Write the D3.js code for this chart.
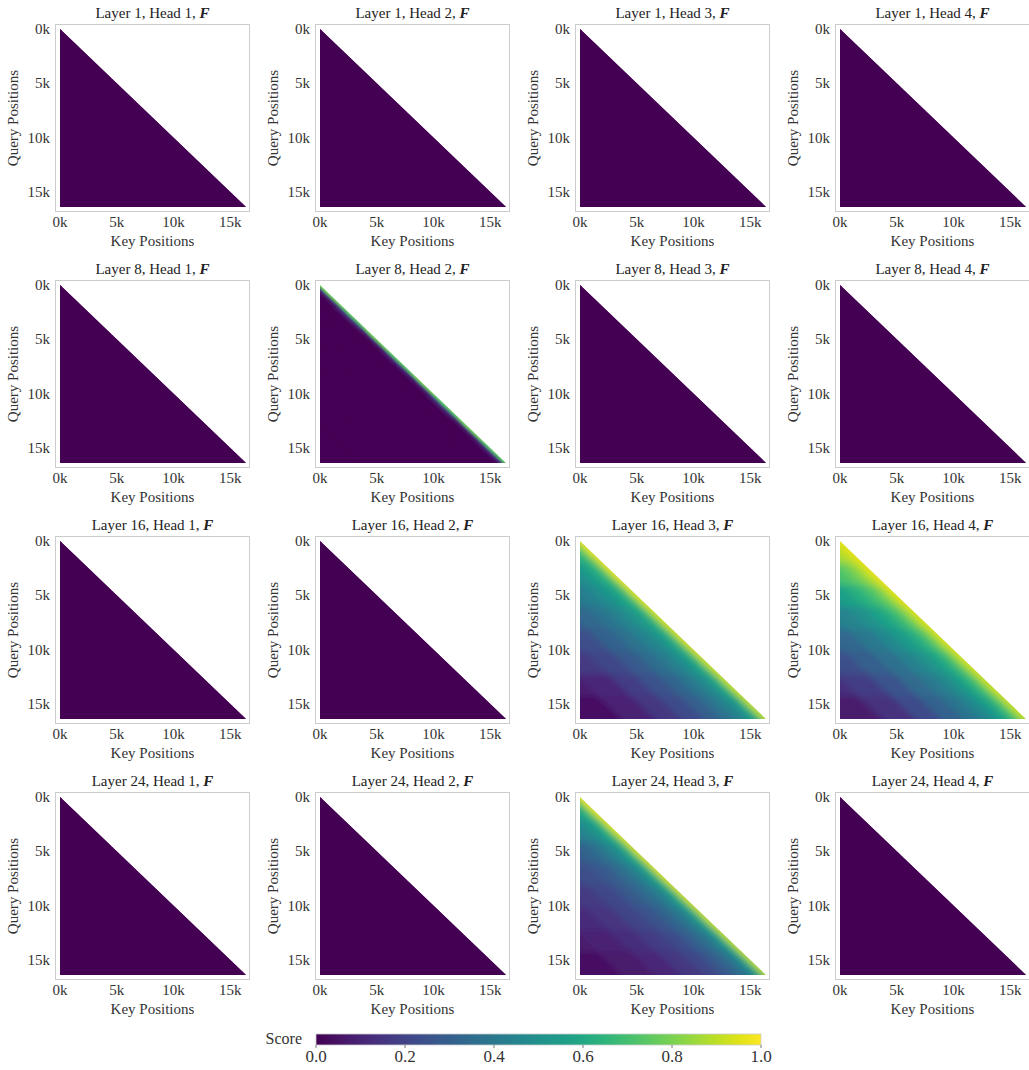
<!DOCTYPE html>
<html>
<head>
<meta charset="utf-8">
<script src="https://cdn.jsdelivr.net/npm/d3@7"></script>
<style>
  html, body { margin: 0; padding: 0; background: #ffffff; }
  svg { display: block; }
</style>
</head>
<body>
<svg id="chart" width="1029" height="1070" font-family="'Liberation Serif', 'Times New Roman', Tinos, 'DejaVu Serif', serif"></svg>
<script>
// ---------------- DATA ----------------
const SEQ_LEN = 16384;
const layers = [1, 8, 16, 24];
const heads = [1, 2, 3, 4];
const tickValues = [0, 5000, 10000, 15000];
const tickLabels = ["0k", "5k", "10k", "15k"];
const colorbarTicks = [0.0, 0.2, 0.4, 0.6, 0.8, 1.0];
const colorbarLabels = ["0.0", "0.2", "0.4", "0.6", "0.8", "1.0"];

// Bins (fraction of sequence): query position and distance behind the diagonal (query - key)
const queryEdges = [-0.03, 0.125, 0.25, 0.375, 0.5, 0.625, 0.75, 0.875, 1.03];
const distEdges = [-0.04, 0.018, 0.035, 0.06, 0.09, 0.13, 0.18, 0.25, 0.34, 0.46, 0.6, 0.78, 1.05];
const flatQueryEdges = [-0.05, 1.05];
const flatDistEdges = [-0.05, 1.1];

// Scores per (query bin, distance bin)
const FLAT = [[0.0]];
const L8H2 = [
  [0.78, 0.16, 0.03, 0.0, 0.0, 0.0, 0.0, 0.0, 0.0, 0.0, 0.0, 0.0],
  [0.75, 0.20, 0.05, 0.0, 0.0, 0.0, 0.0, 0.0, 0.0, 0.0, 0.0, 0.0],
  [0.78, 0.14, 0.02, 0.0, 0.0, 0.0, 0.0, 0.0, 0.0, 0.0, 0.0, 0.0],
  [0.75, 0.18, 0.04, 0.0, 0.0, 0.0, 0.0, 0.0, 0.0, 0.0, 0.0, 0.0],
  [0.78, 0.15, 0.03, 0.0, 0.0, 0.0, 0.0, 0.0, 0.0, 0.0, 0.0, 0.0],
  [0.75, 0.20, 0.05, 0.0, 0.0, 0.0, 0.0, 0.0, 0.0, 0.0, 0.0, 0.0],
  [0.78, 0.14, 0.02, 0.0, 0.0, 0.0, 0.0, 0.0, 0.0, 0.0, 0.0, 0.0],
  [0.75, 0.18, 0.04, 0.0, 0.0, 0.0, 0.0, 0.0, 0.0, 0.0, 0.0, 0.0]
];
const L16H3 = [
  [0.97, 0.86, 0.76, 0.67, 0.61, 0.57, 0.55, 0.55, 0.55, 0.55, 0.55, 0.55],
  [0.97, 0.86, 0.74, 0.65, 0.59, 0.54, 0.49, 0.46, 0.46, 0.46, 0.46, 0.46],
  [0.96, 0.85, 0.72, 0.63, 0.57, 0.52, 0.47, 0.42, 0.39, 0.39, 0.39, 0.39],
  [0.95, 0.84, 0.71, 0.61, 0.55, 0.50, 0.45, 0.39, 0.33, 0.30, 0.30, 0.30],
  [0.95, 0.83, 0.70, 0.60, 0.54, 0.48, 0.43, 0.37, 0.31, 0.24, 0.22, 0.22],
  [0.94, 0.82, 0.68, 0.59, 0.52, 0.47, 0.41, 0.35, 0.28, 0.21, 0.17, 0.15],
  [0.93, 0.81, 0.66, 0.57, 0.50, 0.45, 0.39, 0.32, 0.25, 0.18, 0.11, 0.08],
  [0.92, 0.80, 0.64, 0.55, 0.48, 0.43, 0.37, 0.30, 0.23, 0.16, 0.09, 0.04]
];
const L16H4 = [
  [0.97, 0.94, 0.91, 0.88, 0.86, 0.85, 0.84, 0.84, 0.84, 0.84, 0.84, 0.84],
  [0.97, 0.93, 0.89, 0.84, 0.79, 0.74, 0.70, 0.67, 0.67, 0.67, 0.67, 0.67],
  [0.96, 0.92, 0.86, 0.80, 0.74, 0.68, 0.62, 0.56, 0.53, 0.53, 0.53, 0.53],
  [0.95, 0.90, 0.84, 0.77, 0.70, 0.63, 0.57, 0.50, 0.45, 0.42, 0.42, 0.42],
  [0.95, 0.89, 0.82, 0.74, 0.67, 0.60, 0.54, 0.47, 0.40, 0.33, 0.32, 0.32],
  [0.94, 0.88, 0.80, 0.72, 0.64, 0.57, 0.51, 0.44, 0.37, 0.30, 0.24, 0.22],
  [0.93, 0.87, 0.78, 0.70, 0.62, 0.55, 0.48, 0.41, 0.34, 0.26, 0.18, 0.13],
  [0.92, 0.86, 0.76, 0.68, 0.60, 0.53, 0.46, 0.39, 0.31, 0.23, 0.14, 0.07]
];
const L24H3 = [
  [0.97, 0.84, 0.71, 0.62, 0.56, 0.52, 0.50, 0.50, 0.50, 0.50, 0.50, 0.50],
  [0.96, 0.82, 0.68, 0.59, 0.53, 0.48, 0.43, 0.42, 0.42, 0.42, 0.42, 0.42],
  [0.95, 0.80, 0.65, 0.56, 0.49, 0.43, 0.36, 0.31, 0.28, 0.28, 0.28, 0.28],
  [0.95, 0.79, 0.63, 0.54, 0.47, 0.40, 0.34, 0.28, 0.24, 0.22, 0.22, 0.22],
  [0.94, 0.77, 0.61, 0.52, 0.45, 0.39, 0.33, 0.27, 0.21, 0.17, 0.16, 0.16],
  [0.93, 0.75, 0.59, 0.50, 0.43, 0.37, 0.31, 0.25, 0.20, 0.15, 0.12, 0.11],
  [0.92, 0.73, 0.57, 0.48, 0.41, 0.35, 0.29, 0.23, 0.18, 0.13, 0.09, 0.07],
  [0.91, 0.71, 0.55, 0.46, 0.39, 0.33, 0.27, 0.21, 0.16, 0.11, 0.07, 0.04]
];
const panelGrids = {
  "8-2": L8H2,
  "16-3": L16H3,
  "16-4": L16H4,
  "24-3": L24H3
};

// ---------------- LAYOUT ----------------
const colLefts = [55, 315, 575, 835];
const rowTops = [24, 280, 536, 792];
const frameW = 195, frameH = 188;
const padL = 5, padT = 5;
const plotW = 186, plotH = 178;
const textColor = "#333333";
const fontSize = 15;

const svg = d3.select("#chart");
const defs = svg.append("defs");
[["soft", 3.0], ["softThin", 1.0]].forEach(([id, sd]) => {
  defs.append("filter").attr("id", id)
    .attr("x", "-10%").attr("y", "-10%").attr("width", "120%").attr("height", "120%")
    .append("feGaussianBlur").attr("stdDeviation", sd);
});

const color = d3.scaleSequential(d3.interpolateViridis).domain([0, 1]);

layers.forEach((layer, r) => {
  heads.forEach((head, c) => {
    const fx = colLefts[c], fy = rowTops[r];
    const x0 = fx + padL, y0 = fy + padT;
    const x = d3.scaleLinear().domain([0, SEQ_LEN]).range([x0, x0 + plotW]);
    const y = d3.scaleLinear().domain([0, SEQ_LEN]).range([y0, y0 + plotH]);
    const g = svg.append("g");

    // frame
    g.append("rect")
      .attr("x", fx + 0.5).attr("y", fy + 0.5)
      .attr("width", frameW - 1).attr("height", frameH - 1)
      .attr("fill", "none").attr("stroke", "#cccccc").attr("stroke-width", 1);

    // clip triangle (causal mask)
    const clipId = `clip-${layer}-${head}`;
    defs.append("clipPath").attr("id", clipId)
      .append("path")
      .attr("d", `M${x(0)},${y(0)}L${x(0)},${y(SEQ_LEN)}L${x(SEQ_LEN)},${y(SEQ_LEN)}Z`);

    const grid = panelGrids[`${layer}-${head}`] || FLAT;
    const qE = grid === FLAT ? flatQueryEdges : queryEdges;
    const dE = grid === FLAT ? flatDistEdges : distEdges;
    const cells = [];
    grid.forEach((row, i) => row.forEach((v, j) => {
      cells.push({ q0: qE[i] * SEQ_LEN, q1: qE[i + 1] * SEQ_LEN,
                   d0: dE[j] * SEQ_LEN, d1: dE[j + 1] * SEQ_LEN, v });
    }));

    const filt = grid === FLAT ? null : (grid === L8H2 ? "url(#softThin)" : "url(#soft)");
    const heat = g.append("g").attr("clip-path", `url(#${clipId})`)
      .append("g").attr("filter", filt);
    // dark underlay so no seams show between cells
    heat.append("path")
      .attr("d", `M${x(-SEQ_LEN)},${y(-800)}L${x(SEQ_LEN + 800)},${y(-800)}L${x(SEQ_LEN + 800)},${y(SEQ_LEN + 800)}L${x(-SEQ_LEN)},${y(SEQ_LEN + 800)}Z`)
      .attr("fill", color(0));
    heat.selectAll("path.cell").data(cells).join("path")
      .attr("class", "cell")
      .attr("d", cell => {
        const pts = [
          [cell.q0 - cell.d0, cell.q0], [cell.q0 - cell.d1, cell.q0],
          [cell.q1 - cell.d1, cell.q1], [cell.q1 - cell.d0, cell.q1]
        ];
        return "M" + pts.map(p => `${x(p[0])},${y(p[1])}`).join("L") + "Z";
      })
      .attr("fill", cell => color(cell.v))
      .attr("stroke", cell => color(cell.v))
      .attr("stroke-width", 1.0);

    // title
    const t = g.append("text")
      .attr("x", fx + frameW / 2).attr("y", fy - 6)
      .attr("text-anchor", "middle").attr("font-size", fontSize).attr("fill", "#222");
    t.append("tspan").text(`Layer ${layer}, Head ${head}, `);
    t.append("tspan").attr("font-weight", "bold").attr("font-style", "italic").text("F");

    // x tick labels
    g.selectAll(".xt").data(tickValues).join("text")
      .attr("class", "xt")
      .attr("x", v => x(v)).attr("y", fy + frameH + 15)
      .attr("text-anchor", "middle").attr("font-size", fontSize).attr("fill", textColor)
      .text((v, i) => tickLabels[i]);
    // y tick labels
    g.selectAll(".yt").data(tickValues).join("text")
      .attr("class", "yt")
      .attr("x", fx - 5).attr("y", v => y(v) + 5)
      .attr("text-anchor", "end").attr("font-size", fontSize).attr("fill", textColor)
      .text((v, i) => tickLabels[i]);

    // axis labels
    g.append("text")
      .attr("x", fx + frameW / 2).attr("y", fy + frameH + 34)
      .attr("text-anchor", "middle").attr("font-size", fontSize).attr("fill", textColor)
      .text("Key Positions");
    g.append("text")
      .attr("transform", `translate(${fx - 37},${y0 + plotH / 2}) rotate(-90)`)
      .attr("text-anchor", "middle").attr("font-size", fontSize).attr("fill", textColor)
      .text("Query Positions");
  });
});

// ---------------- COLORBAR ----------------
const cbX0 = 316, cbX1 = 761, cbY = 1034, cbH = 11;
const grad = defs.append("linearGradient").attr("id", "viridis-grad")
  .attr("x1", "0%").attr("x2", "100%").attr("y1", "0%").attr("y2", "0%");
d3.range(0, 1.0001, 0.05).forEach(s => {
  grad.append("stop").attr("offset", `${s * 100}%`).attr("stop-color", color(s));
});
svg.append("rect").attr("x", cbX0).attr("y", cbY).attr("width", cbX1 - cbX0).attr("height", cbH)
  .attr("fill", "url(#viridis-grad)").attr("stroke", "#cccccc").attr("stroke-width", 0.8);
const cbScale = d3.scaleLinear().domain([0, 1]).range([cbX0, cbX1]);
svg.selectAll(".cbtick").data(colorbarTicks).join("line")
  .attr("class", "cbtick")
  .attr("x1", v => cbScale(v)).attr("x2", v => cbScale(v))
  .attr("y1", cbY + cbH).attr("y2", cbY + cbH + 3)
  .attr("stroke", "#555").attr("stroke-width", 0.8);
svg.selectAll(".cblabel").data(colorbarTicks).join("text")
  .attr("class", "cblabel")
  .attr("x", v => cbScale(v)).attr("y", cbY + cbH + 17)
  .attr("text-anchor", "middle").attr("font-size", 17).attr("fill", textColor)
  .text((v, i) => colorbarLabels[i]);
svg.append("text").attr("x", cbX0 - 14).attr("y", cbY + 10)
  .attr("text-anchor", "end").attr("font-size", 16).attr("fill", textColor)
  .text("Score");
</script>
</body>
</html>
